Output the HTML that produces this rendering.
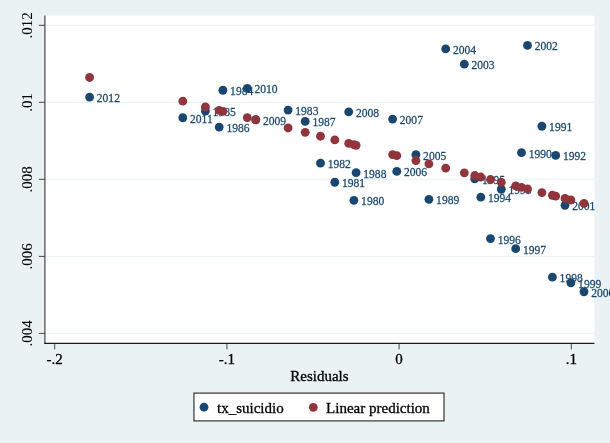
<!DOCTYPE html>
<html><head><meta charset="utf-8"><title>Residuals</title>
<style>
html,body{margin:0;padding:0;background:#eaf2f3;}
body{width:610px;height:443px;overflow:hidden;}
svg{display:block;}
text{font-family:"Liberation Serif","Times New Roman",Times,serif;}
.ax{font-size:15px;fill:#000;stroke:#000;stroke-width:0.3px;}
.ay{stroke-width:0.05px;}
.ml{font-size:12px;fill:#1a476f;stroke:#1a476f;stroke-width:0.25px;}
</style></head><body>
<svg width="610" height="443" viewBox="0 0 610 443">
<rect x="0" y="0" width="610" height="443" fill="#eaf2f3"/>
<rect x="45.6" y="15.6" width="548.8" height="327.3" fill="#fff"/>
<line x1="45.6" y1="25.3" x2="594.4" y2="25.3" stroke="#eaf2f3" stroke-width="1"/>
<line x1="45.6" y1="102.3" x2="594.4" y2="102.3" stroke="#eaf2f3" stroke-width="1"/>
<line x1="45.6" y1="179.3" x2="594.4" y2="179.3" stroke="#eaf2f3" stroke-width="1"/>
<line x1="45.6" y1="256.4" x2="594.4" y2="256.4" stroke="#eaf2f3" stroke-width="1"/>
<line x1="45.6" y1="333.4" x2="594.4" y2="333.4" stroke="#eaf2f3" stroke-width="1"/>
<line x1="44.9" y1="15.6" x2="44.9" y2="343.9" stroke="#333" stroke-width="1.05"/>
<line x1="44.3" y1="343.4" x2="594.4" y2="343.4" stroke="#1a1a1a" stroke-width="1.1"/>
<line x1="38.9" y1="25.3" x2="44.9" y2="25.3" stroke="#333" stroke-width="0.9"/>
<text class="ax ay" text-anchor="middle" transform="translate(32.2,25.3) rotate(-90) scale(1,1.04)">.012</text>
<line x1="38.9" y1="102.3" x2="44.9" y2="102.3" stroke="#333" stroke-width="0.9"/>
<text class="ax ay" text-anchor="middle" transform="translate(32.2,102.3) rotate(-90) scale(1,1.04)">.01</text>
<line x1="38.9" y1="179.3" x2="44.9" y2="179.3" stroke="#333" stroke-width="0.9"/>
<text class="ax ay" text-anchor="middle" transform="translate(32.2,179.3) rotate(-90) scale(1,1.04)">.008</text>
<line x1="38.9" y1="256.4" x2="44.9" y2="256.4" stroke="#333" stroke-width="0.9"/>
<text class="ax ay" text-anchor="middle" transform="translate(32.2,256.4) rotate(-90) scale(1,1.04)">.006</text>
<line x1="38.9" y1="333.4" x2="44.9" y2="333.4" stroke="#333" stroke-width="0.9"/>
<text class="ax ay" text-anchor="middle" transform="translate(32.2,333.4) rotate(-90) scale(1,1.04)">.004</text>
<line x1="54.7" y1="343.4" x2="54.7" y2="349.4" stroke="#333" stroke-width="0.9"/>
<text class="ax" text-anchor="middle" x="54.7" y="364">-.2</text>
<line x1="226.9" y1="343.4" x2="226.9" y2="349.4" stroke="#333" stroke-width="0.9"/>
<text class="ax" text-anchor="middle" x="226.9" y="364">-.1</text>
<line x1="399.1" y1="343.4" x2="399.1" y2="349.4" stroke="#333" stroke-width="0.9"/>
<text class="ax" text-anchor="middle" x="399.1" y="364">0</text>
<line x1="571.3" y1="343.4" x2="571.3" y2="349.4" stroke="#333" stroke-width="0.9"/>
<text class="ax" text-anchor="middle" x="571.3" y="364">.1</text>
<text class="ax" text-anchor="middle" x="319.4" y="381">Residuals</text>
<circle cx="353.9" cy="200.35" r="4.42" fill="#1a476f"/><text class="ml" transform="translate(361.1,205.35) scale(0.965,1.035)">1980</text>
<circle cx="334.8" cy="182.25" r="4.42" fill="#1a476f"/><text class="ml" transform="translate(342.0,187.25) scale(0.965,1.035)">1981</text>
<circle cx="320.5" cy="163.20" r="4.42" fill="#1a476f"/><text class="ml" transform="translate(327.7,168.20) scale(0.965,1.035)">1982</text>
<circle cx="288.1" cy="110.05" r="4.42" fill="#1a476f"/><text class="ml" transform="translate(295.3,115.05) scale(0.965,1.035)">1983</text>
<circle cx="222.9" cy="90.25" r="4.42" fill="#1a476f"/><text class="ml" transform="translate(230.1,95.25) scale(0.965,1.035)">1984</text>
<circle cx="205.4" cy="111.05" r="4.42" fill="#1a476f"/><text class="ml" transform="translate(212.6,116.05) scale(0.965,1.035)">1985</text>
<circle cx="219.2" cy="127.05" r="4.42" fill="#1a476f"/><text class="ml" transform="translate(226.4,132.05) scale(0.965,1.035)">1986</text>
<circle cx="305.2" cy="121.45" r="4.42" fill="#1a476f"/><text class="ml" transform="translate(312.4,126.45) scale(0.965,1.035)">1987</text>
<circle cx="356.1" cy="172.65" r="4.42" fill="#1a476f"/><text class="ml" transform="translate(363.3,177.65) scale(0.965,1.035)">1988</text>
<circle cx="428.9" cy="199.35" r="4.42" fill="#1a476f"/><text class="ml" transform="translate(436.1,204.35) scale(0.965,1.035)">1989</text>
<circle cx="521.5" cy="152.65" r="4.42" fill="#1a476f"/><text class="ml" transform="translate(528.7,157.65) scale(0.965,1.035)">1990</text>
<circle cx="541.9" cy="126.25" r="4.42" fill="#1a476f"/><text class="ml" transform="translate(549.1,131.25) scale(0.965,1.035)">1991</text>
<circle cx="555.7" cy="155.40" r="4.42" fill="#1a476f"/><text class="ml" transform="translate(562.9,160.40) scale(0.965,1.035)">1992</text>
<circle cx="501.3" cy="189.25" r="4.42" fill="#1a476f"/><text class="ml" transform="translate(508.5,194.25) scale(0.965,1.035)">1993</text>
<circle cx="480.8" cy="197.20" r="4.42" fill="#1a476f"/><text class="ml" transform="translate(488.0,202.20) scale(0.965,1.035)">1994</text>
<circle cx="474.8" cy="178.95" r="4.42" fill="#1a476f"/><text class="ml" transform="translate(482.0,183.95) scale(0.965,1.035)">1995</text>
<circle cx="490.5" cy="238.55" r="4.42" fill="#1a476f"/><text class="ml" transform="translate(497.7,243.55) scale(0.965,1.035)">1996</text>
<circle cx="515.7" cy="248.65" r="4.42" fill="#1a476f"/><text class="ml" transform="translate(522.9,253.65) scale(0.965,1.035)">1997</text>
<circle cx="552.4" cy="277.20" r="4.42" fill="#1a476f"/><text class="ml" transform="translate(559.6,282.20) scale(0.965,1.035)">1998</text>
<circle cx="570.9" cy="282.75" r="4.42" fill="#1a476f"/><text class="ml" transform="translate(578.1,287.75) scale(0.965,1.035)">1999</text>
<circle cx="584.0" cy="291.75" r="4.42" fill="#1a476f"/><text class="ml" transform="translate(591.2,296.75) scale(0.965,1.035)">2000</text>
<circle cx="565.0" cy="205.35" r="4.42" fill="#1a476f"/><text class="ml" transform="translate(572.2,210.35) scale(0.965,1.035)">2001</text>
<circle cx="527.5" cy="45.45" r="4.42" fill="#1a476f"/><text class="ml" transform="translate(534.7,50.45) scale(0.965,1.035)">2002</text>
<circle cx="464.3" cy="64.15" r="4.42" fill="#1a476f"/><text class="ml" transform="translate(471.5,69.15) scale(0.965,1.035)">2003</text>
<circle cx="445.7" cy="48.95" r="4.42" fill="#1a476f"/><text class="ml" transform="translate(452.9,53.95) scale(0.965,1.035)">2004</text>
<circle cx="415.9" cy="154.65" r="4.42" fill="#1a476f"/><text class="ml" transform="translate(423.1,159.65) scale(0.965,1.035)">2005</text>
<circle cx="396.8" cy="171.45" r="4.42" fill="#1a476f"/><text class="ml" transform="translate(404.0,176.45) scale(0.965,1.035)">2006</text>
<circle cx="392.6" cy="119.05" r="4.42" fill="#1a476f"/><text class="ml" transform="translate(399.8,124.05) scale(0.965,1.035)">2007</text>
<circle cx="348.7" cy="111.85" r="4.42" fill="#1a476f"/><text class="ml" transform="translate(355.9,116.85) scale(0.965,1.035)">2008</text>
<circle cx="255.8" cy="119.75" r="4.42" fill="#1a476f"/><text class="ml" transform="translate(263.0,124.75) scale(0.965,1.035)">2009</text>
<circle cx="247.3" cy="88.45" r="4.42" fill="#1a476f"/><text class="ml" transform="translate(254.5,93.45) scale(0.965,1.035)">2010</text>
<circle cx="182.8" cy="117.75" r="4.42" fill="#1a476f"/><text class="ml" transform="translate(190.0,122.75) scale(0.965,1.035)">2011</text>
<circle cx="89.6" cy="97.10" r="4.42" fill="#1a476f"/><text class="ml" transform="translate(96.8,102.10) scale(0.965,1.035)">2012</text>
<circle cx="353.9" cy="144.74" r="4.42" fill="#90353b"/>
<circle cx="334.8" cy="139.88" r="4.42" fill="#90353b"/>
<circle cx="320.5" cy="136.24" r="4.42" fill="#90353b"/>
<circle cx="288.1" cy="127.99" r="4.42" fill="#90353b"/>
<circle cx="222.9" cy="111.39" r="4.42" fill="#90353b"/>
<circle cx="205.4" cy="106.94" r="4.42" fill="#90353b"/>
<circle cx="219.2" cy="110.45" r="4.42" fill="#90353b"/>
<circle cx="305.2" cy="132.34" r="4.42" fill="#90353b"/>
<circle cx="356.1" cy="145.30" r="4.42" fill="#90353b"/>
<circle cx="428.9" cy="163.83" r="4.42" fill="#90353b"/>
<circle cx="521.5" cy="187.40" r="4.42" fill="#90353b"/>
<circle cx="541.9" cy="192.59" r="4.42" fill="#90353b"/>
<circle cx="555.7" cy="196.11" r="4.42" fill="#90353b"/>
<circle cx="501.3" cy="182.26" r="4.42" fill="#90353b"/>
<circle cx="480.8" cy="177.04" r="4.42" fill="#90353b"/>
<circle cx="474.8" cy="175.51" r="4.42" fill="#90353b"/>
<circle cx="490.5" cy="179.51" r="4.42" fill="#90353b"/>
<circle cx="515.7" cy="185.92" r="4.42" fill="#90353b"/>
<circle cx="552.4" cy="195.27" r="4.42" fill="#90353b"/>
<circle cx="570.9" cy="199.97" r="4.42" fill="#90353b"/>
<circle cx="584.0" cy="203.31" r="4.42" fill="#90353b"/>
<circle cx="565.0" cy="198.47" r="4.42" fill="#90353b"/>
<circle cx="527.5" cy="188.93" r="4.42" fill="#90353b"/>
<circle cx="464.3" cy="172.84" r="4.42" fill="#90353b"/>
<circle cx="445.7" cy="168.10" r="4.42" fill="#90353b"/>
<circle cx="415.9" cy="160.52" r="4.42" fill="#90353b"/>
<circle cx="396.8" cy="155.66" r="4.42" fill="#90353b"/>
<circle cx="392.6" cy="154.59" r="4.42" fill="#90353b"/>
<circle cx="348.7" cy="143.41" r="4.42" fill="#90353b"/>
<circle cx="255.8" cy="119.77" r="4.42" fill="#90353b"/>
<circle cx="247.3" cy="117.60" r="4.42" fill="#90353b"/>
<circle cx="182.8" cy="101.18" r="4.42" fill="#90353b"/>
<circle cx="89.6" cy="77.46" r="4.42" fill="#90353b"/>
<rect x="193.95" y="393.1" width="250.05" height="27.8" fill="#fff" stroke="#222" stroke-width="1.1"/>
<circle cx="204.0" cy="407.2" r="4.4" fill="#1a476f"/>
<text class="ax" x="217.0" y="413.2">tx_suicidio</text>
<circle cx="313.3" cy="407.3" r="4.4" fill="#90353b"/>
<text class="ax" x="326.1" y="413.2">Linear prediction</text>
</svg>
</body></html>
